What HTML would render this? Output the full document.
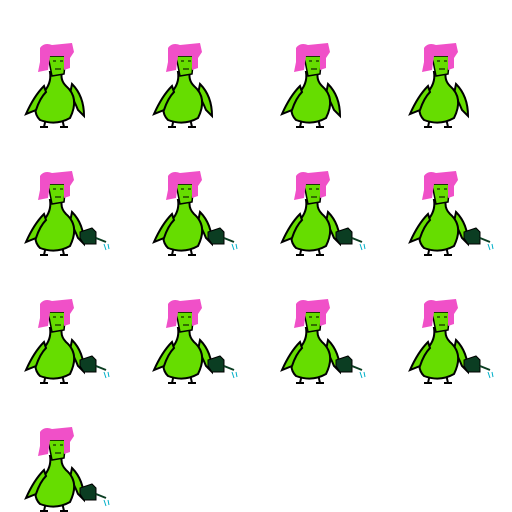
<!DOCTYPE html>
<html><head><style>
html,body{margin:0;padding:0;background:#fff;}
svg{display:block}
</style></head><body>
<svg id="s" width="512" height="512" viewBox="0 0 512 512" xmlns="http://www.w3.org/2000/svg"></svg>
<script>
const frames = [0,1,2,3,4,5,6,7,8,9,10,11,12];
const hasCan = [0,0,0,0,1,1,1,1,1,1,1,1,1];
const svg = document.getElementById('s');
const NS = 'http://www.w3.org/2000/svg';
function sprite(i){
  const cx = (i%4)*128, cy = Math.floor(i/4)*128;
  const g = document.createElementNS(NS,'g');
  
  
  g.setAttribute('transform','translate('+cx+','+cy+')');
  let h = `
  <path d="M46 118 L44 127 M62 118 L64 127 M40 127 L48 127 M60 127 L68 127" stroke="#000" stroke-width="2" fill="none"/>
  <path d="M72 84 Q84 96 84 116 L78 110 Q74 100 70 94 Z" fill="#66dd00" stroke="#000" stroke-width="2"/>
  <path d="M50 72 Q52 84 42 94 Q30 110 40 120 Q56 126 70 118 Q80 98 66 86 Q60 80 62 72 Z" fill="#66dd00" stroke="#000" stroke-width="2"/>
  <path d="M44 86 Q34 96 26 114 L36 110 Q40 98 46 92 Z" fill="#66dd00" stroke="#000" stroke-width="2"/>
  <path d="M48 56 L66 56 L64 74 L52 76 Z" fill="#66dd00" stroke="#000" stroke-width="1.5"/>
  <path d="M40 48 Q44 42 52 45 L62 44 L72 43 L74 52 L70 58 L70 68 L64 70 L64 56 L50 56 L48 70 L38 72 L40 62 Z" fill="#f050c8"/>
  <path d="M53 61 h3 M60 61 h3 M55 69 h6" stroke="#000" stroke-width="1"/>`;
  if(hasCan[i]) h += `
  <path d="M80 104 L92 100 L96 104 L96 116 L84 116 L80 110 Z" fill="#0b3d22" stroke="#000" stroke-width="1"/>
  <path d="M96 110 L106 114" stroke="#0b3d22" stroke-width="2"/>
  <path d="M104 116 l2 6 M108 116 l1 5" stroke="#00b0c8" stroke-width="1"/>`;
  g.innerHTML = h;
  svg.appendChild(g);
}
frames.forEach(sprite);
</script>
</body></html>
